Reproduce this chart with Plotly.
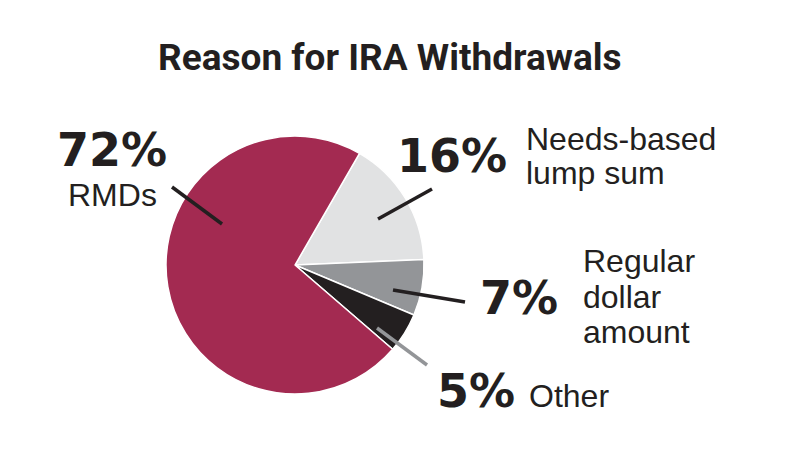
import plotly.graph_objects as go

# Data
categories = ["Needs-based lump sum", "Regular dollar amount", "Other", "RMDs"]
values = [16, 7, 5, 72]
colors = ["#E1E2E3", "#939598", "#231F20", "#A32A51"]
pct_labels = ["16%", "7%", "5%", "72%"]

W, H = 790, 468
CX, CY, R = 295, 265, 129


def px(x, y):
    return x / W, 1 - y / H


fig = go.Figure()
fig.add_trace(go.Pie(
    labels=categories,
    values=values,
    sort=False,
    direction="clockwise",
    rotation=30,
    marker=dict(colors=colors, line=dict(color="white", width=1.5)),
    textinfo="none",
    hoverinfo="label+percent",
    showlegend=False,
    domain=dict(x=[(CX - R) / W, (CX + R) / W], y=[1 - (CY + R) / H, 1 - (CY - R) / H]),
))

TXT = "#231F20"
PCT_FONT = dict(family="DejaVu Sans", size=46, color=TXT, weight="bold")
LBL_FONT = dict(family="Liberation Sans, Arial, sans-serif", size=32, color=TXT)

annotations = []


def ann(text, x, y, font, xanchor="left", yanchor="middle"):
    ax, ay = px(x, y)
    annotations.append(dict(text=text, x=ax, y=ay, xref="paper", yref="paper",
                            xanchor=xanchor, yanchor=yanchor, showarrow=False,
                            font=font))


# Title
ann("Reason for IRA Withdrawals", 390, 57,
    dict(family="Roboto, sans-serif", size=37, color=TXT, weight="bold"),
    xanchor="center")

# Percentages
ann(pct_labels[3], 55, 150, PCT_FONT)
ann(pct_labels[0], 395, 156, PCT_FONT)
ann(pct_labels[1], 478, 298, PCT_FONT)
ann(pct_labels[2], 435, 391, PCT_FONT)

# Category labels (one line each)
ann("RMDs", 66, 195, LBL_FONT)
ann("Needs-based", 524, 139, LBL_FONT)
ann("lump sum", 524, 173, LBL_FONT)
ann("Regular", 581, 261, LBL_FONT)
ann("dollar", 581, 297, LBL_FONT)
ann("amount", 581, 332, LBL_FONT)
ann("Other", 527, 396, LBL_FONT)

shapes = []


def leader(x0, y0, x1, y1, color="#231F20"):
    a0, b0 = px(x0, y0)
    a1, b1 = px(x1, y1)
    shapes.append(dict(type="line", xref="paper", yref="paper", x0=a0, y0=b0, x1=a1, y1=b1,
                       line=dict(color=color, width=3.5)))


leader(172, 187, 222, 224)
leader(378, 219, 432, 189)
leader(393, 290, 465, 302)
leader(377, 328, 427, 365, color="#939598")

fig.update_layout(
    width=W, height=H,
    margin=dict(l=0, r=0, t=0, b=0),
    paper_bgcolor="white",
    plot_bgcolor="white",
    annotations=annotations,
    shapes=shapes,
)

fig.write_html("out.html", config={"displayModeBar": False},
               post_script="document.body.style.margin='0';")
